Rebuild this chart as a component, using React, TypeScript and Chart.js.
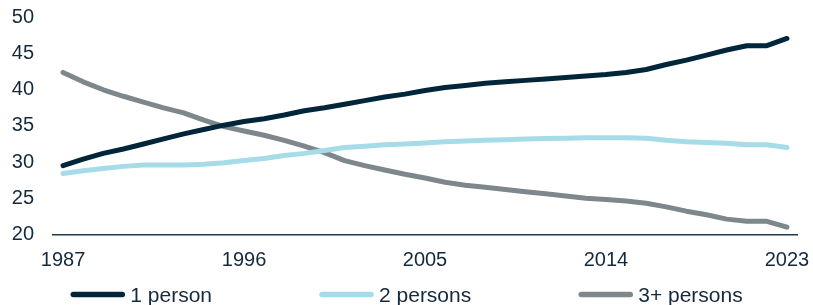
import React, { useEffect, useRef } from "react";
import { Chart, registerables } from "chart.js";

Chart.register(...registerables);

const years = [
  "1987", "1988", "1989", "1990", "1991", "1992", "1993", "1994", "1995", "1996",
  "1997", "1998", "1999", "2000", "2001", "2002", "2003", "2004", "2005", "2006",
  "2007", "2008", "2009", "2010", "2011", "2012", "2013", "2014", "2015", "2016",
  "2017", "2018", "2019", "2020", "2021", "2022", "2023",
];

const onePerson = [
  29.5, 30.4, 31.2, 31.8, 32.5, 33.2, 33.9, 34.5, 35.1, 35.6,
  36.0, 36.5, 37.1, 37.5, 38.0, 38.5, 39.0, 39.4, 39.9, 40.3,
  40.6, 40.9, 41.1, 41.3, 41.5, 41.7, 41.9, 42.1, 42.4, 42.8,
  43.5, 44.1, 44.8, 45.5, 46.1, 46.1, 47.1,
];

const twoPersons = [
  28.4, 28.8, 29.1, 29.4, 29.6, 29.6, 29.6, 29.7, 29.9, 30.2,
  30.5, 30.9, 31.2, 31.6, 32.0, 32.2, 32.4, 32.5, 32.65, 32.8,
  32.9, 33.0, 33.1, 33.2, 33.25, 33.3, 33.35, 33.35, 33.35, 33.3,
  33.0, 32.8, 32.7, 32.6, 32.4, 32.4, 32.0,
];

const threePlus = [
  42.4, 41.1, 40.0, 39.1, 38.3, 37.5, 36.8, 35.8, 34.9, 34.3,
  33.7, 33.0, 32.2, 31.3, 30.2, 29.5, 28.9, 28.3, 27.8, 27.2,
  26.8, 26.5, 26.2, 25.9, 25.6, 25.3, 25.0, 24.8, 24.6, 24.3,
  23.8, 23.2, 22.7, 22.1, 21.8, 21.8, 21.0,
];

const seriesLabels = ["1 person", "2 persons", "3+ persons"];
const seriesColors = ["#012639", "#a6dbe8", "#7e878c"];
const yTicks = [20, 25, 30, 35, 40, 45, 50];
const xLabelStep = 9;

const TEXT_COLOR = "#15293c";
const FONT_FAMILY = "'Liberation Sans', Arial, sans-serif";

const legendPlugin = {
  id: "customLegend",
  afterDraw(chart: any) {
    const ctx = chart.ctx as CanvasRenderingContext2D;
    const fontSize = 21;
    const marker = 55;
    const gapText = 5;
    const gapItems = 107;
    ctx.save();
    ctx.font = `${fontSize}px ${FONT_FAMILY}`;
    const items = chart.data.datasets.map((ds: any) => ({
      text: ds.label,
      color: ds.borderColor,
      w: marker + gapText + ctx.measureText(ds.label).width,
    }));
    const total =
      items.reduce((s: number, it: any) => s + it.w, 0) + gapItems * (items.length - 1);
    let x = chart.width / 2 - total / 2;
    const yMid = chart.height - 10.5;
    const baseline = chart.height - 3.5;
    for (const it of items) {
      ctx.strokeStyle = it.color;
      ctx.lineWidth = 5.5;
      ctx.lineCap = "round";
      ctx.beginPath();
      ctx.moveTo(x + 3, yMid);
      ctx.lineTo(x + marker - 3, yMid);
      ctx.stroke();
      ctx.fillStyle = TEXT_COLOR;
      ctx.textBaseline = "alphabetic";
      ctx.textAlign = "left";
      ctx.fillText(it.text, x + marker + gapText, baseline);
      x += it.w + gapItems;
    }
    ctx.restore();
  },
};

export default function App() {
  const canvasRef = useRef<HTMLCanvasElement | null>(null);

  useEffect(() => {
    const canvas = canvasRef.current;
    if (!canvas) return;
    const datasets = [onePerson, twoPersons, threePlus].map((values, i) => ({
      label: seriesLabels[i],
      data: values,
      borderColor: seriesColors[i],
      backgroundColor: seriesColors[i],
      borderWidth: 5,
      pointRadius: 0,
      tension: 0,
      borderCapStyle: "round" as const,
      borderJoinStyle: "round" as const,
      fill: false,
    }));
    const chart = new Chart(canvas, {
      type: "line",
      data: { labels: years, datasets },
      plugins: [legendPlugin],
      options: {
        responsive: false,
        animation: false,
        layout: { padding: { left: 12, right: 16, top: 17.5, bottom: 32.7 } },
        plugins: {
          legend: { display: false },
          tooltip: { enabled: false },
          title: { display: false },
        },
        scales: {
          x: {
            type: "category",
            offset: true,
            grid: { display: false, drawTicks: false },
            border: { display: true, color: "#1d3a4e", width: 1.5 },
            afterFit: (axis: any) => {
              axis.height = 38;
              axis.paddingLeft = 0;
              axis.paddingRight = 0;
            },
            ticks: {
              autoSkip: false,
              maxRotation: 0,
              minRotation: 0,
              padding: 14,
              color: TEXT_COLOR,
              font: { size: 20, family: FONT_FAMILY },
              callback: (_v: any, i: number) => (i % xLabelStep === 0 ? years[i] : ""),
            },
          },
          y: {
            min: yTicks[0],
            max: yTicks[yTicks.length - 1],
            grid: { display: false, drawTicks: false },
            border: { display: false },
            afterBuildTicks: (axis: any) => {
              axis.ticks = yTicks.map((v) => ({ value: v }));
            },
            afterFit: (axis: any) => {
              axis.width = 41;
              axis.paddingTop = 0;
              axis.paddingBottom = 0;
            },
            ticks: {
              padding: 19,
              color: TEXT_COLOR,
              font: { size: 20, family: FONT_FAMILY },
            },
          },
        },
      },
    });
    return () => chart.destroy();
  }, []);

  return (
    <div style={{ position: "fixed", left: 0, top: 0, width: 813, height: 305, background: "#fff" }}>
      <canvas ref={canvasRef} width={813} height={305} style={{ display: "block" }} />
    </div>
  );
}
